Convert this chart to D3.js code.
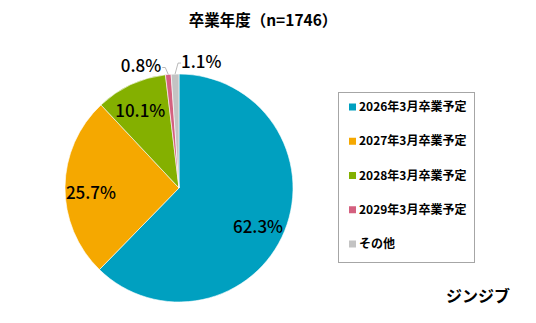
<!DOCTYPE html>
<html>
<head>
<meta charset="utf-8">
<script src="https://cdn.jsdelivr.net/npm/d3@7/dist/d3.min.js"></script>
<style>
  body { margin: 0; background: #fff; }
  text { font-family: "Noto Sans CJK JP", "Noto Sans", sans-serif; }
</style>
</head>
<body>
<div id="chart"></div>
<script>
// data
let categories = ["2026年3月卒業予定", "2027年3月卒業予定", "2028年3月卒業予定", "2029年3月卒業予定", "その他"];
let values = [62.3, 25.7, 10.1, 0.8, 1.1];
let labels = ["62.3%", "25.7%", "10.1%", "0.8%", "1.1%"];
let colors = ["#00A0C0", "#F5A800", "#84B000", "#D4607F", "#C3C3C3"];

let w = 536;
let h = 323;
let cx = 179;
let cy = 188;
let r = 114;

let svg = d3.select("#chart")
  .append("svg")
  .attr("width", w)
  .attr("height", h);

svg.append("text")
  .text("卒業年度（n=1746）")
  .attr("x", 263)
  .attr("y", 26)
  .attr("text-anchor", "middle")
  .style("font-size", "15.5px")
  .style("font-weight", "bold");

let pie = d3.pie().sort(null).value(d => d)(values);
let arc = d3.arc().innerRadius(0).outerRadius(r);

let g = svg.append("g").attr("transform", `translate(${cx},${cy})`);

g.selectAll(".slice")
  .data(pie)
  .enter()
  .append("path")
  .attr("class", "slice")
  .attr("d", arc)
  .attr("fill", (d, i) => colors[i])
  .attr("stroke", "#fff")
  .attr("stroke-width", 0.6);

// inside labels for the big slices
let inner = d3.arc().innerRadius(r * 0.72).outerRadius(r * 0.72);
let innerOffsets = [[3, 8], [-6, 6], [-4, -3]];
g.selectAll(".in-label")
  .data(pie.slice(0, 3))
  .enter()
  .append("text")
  .attr("class", "in-label")
  .attr("x", (d, i) => inner.centroid(d)[0] + innerOffsets[i][0])
  .attr("y", (d, i) => inner.centroid(d)[1] + innerOffsets[i][1])
  .attr("text-anchor", "middle")
  .attr("dy", "0.35em")
  .style("font-size", "17px")
  .style("font-weight", "500")
  .text((d, i) => labels[i]);

// small slices with leader lines
let edge = d3.arc().innerRadius(r).outerRadius(r);
let small = pie.slice(3);

let pinkEdge = edge.centroid(small[0]);
let grayEdge = edge.centroid(small[1]);

g.append("polyline")
  .attr("points", [[pinkEdge[0], pinkEdge[1]], [pinkEdge[0] - 3, pinkEdge[1] - 7], [pinkEdge[0] - 6, pinkEdge[1] - 7]].map(p => p.join(",")).join(" "))
  .attr("fill", "none")
  .attr("stroke", "#a6a6a6")
  .attr("stroke-width", 0.8);

g.append("polyline")
  .attr("points", [[grayEdge[0], grayEdge[1]], [grayEdge[0] + 3, grayEdge[1] - 11], [grayEdge[0] + 6, grayEdge[1] - 11]].map(p => p.join(",")).join(" "))
  .attr("fill", "none")
  .attr("stroke", "#a6a6a6")
  .attr("stroke-width", 0.8);

g.append("text")
  .attr("x", pinkEdge[0] - 7)
  .attr("y", pinkEdge[1] - 8)
  .attr("text-anchor", "end")
  .attr("dy", "0.35em")
  .style("font-size", "17px")
  .style("font-weight", "500")
  .text(labels[3]);

g.append("text")
  .attr("x", grayEdge[0] + 6)
  .attr("y", grayEdge[1] - 12)
  .attr("text-anchor", "start")
  .attr("dy", "0.35em")
  .style("font-size", "17px")
  .style("font-weight", "500")
  .text(labels[4]);

// legend
let legend = svg.append("g");
legend.append("rect")
  .attr("x", 338.5)
  .attr("y", 92.5)
  .attr("width", 136)
  .attr("height", 170)
  .attr("fill", "#fff")
  .attr("stroke", "#a6a6a6")
  .attr("stroke-width", 1);

let ly = d3.scalePoint().domain(categories).range([107, 244]);

let items = legend.selectAll(".item")
  .data(categories)
  .enter()
  .append("g")
  .attr("class", "item")
  .attr("transform", d => `translate(349,${ly(d)})`);

items.append("rect")
  .attr("x", 0)
  .attr("y", -3.5)
  .attr("width", 7)
  .attr("height", 7)
  .attr("fill", (d, i) => colors[i]);

items.append("text")
  .attr("x", 10)
  .attr("y", 0)
  .attr("dy", "0.35em")
  .style("font-size", "12px")
  .style("font-weight", "bold")
  .text(d => d);

svg.append("text")
  .text("ジンジブ")
  .attr("x", 478)
  .attr("y", 302)
  .attr("text-anchor", "middle")
  .style("font-size", "16px")
  .style("font-weight", "bold");
</script>
</body>
</html>
